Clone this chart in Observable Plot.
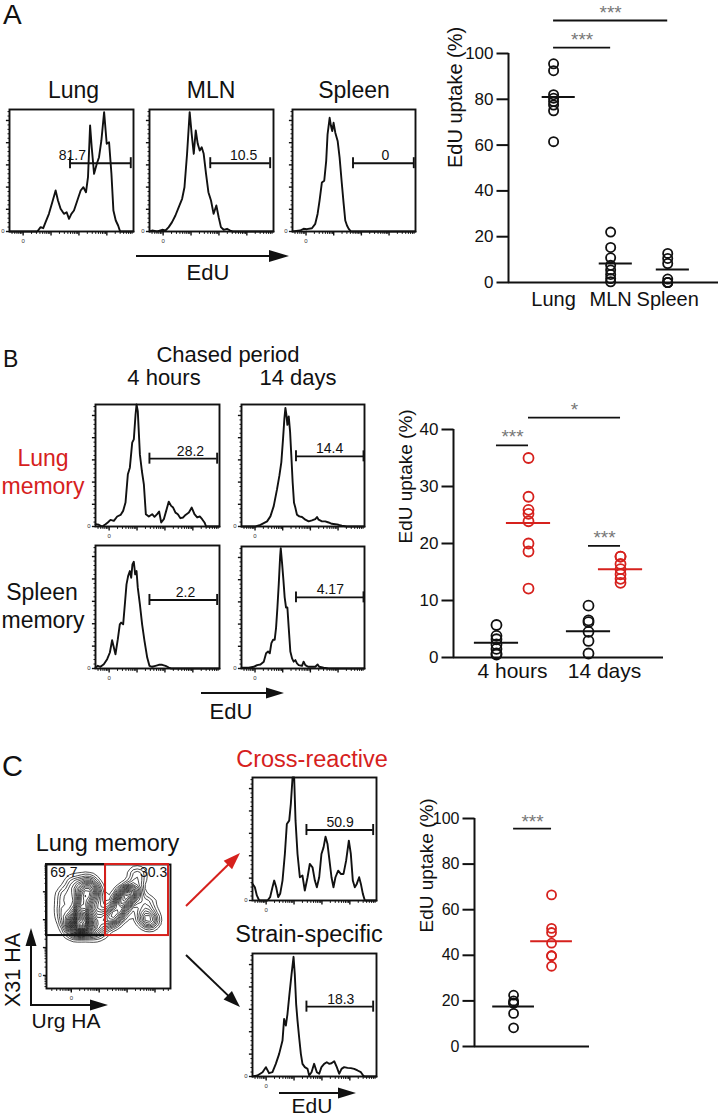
<!DOCTYPE html>
<html><head><meta charset="utf-8">
<script src="https://cdn.jsdelivr.net/npm/d3@7"></script>
<script src="https://cdn.jsdelivr.net/npm/@observablehq/plot@0.6"></script>
<style>
body{margin:0;background:#fff;}
#fig{position:relative;width:718px;height:1119px;overflow:hidden;background:#fff;font-family:"Liberation Sans",Arial,sans-serif;}
#fig > div{position:absolute;line-height:0;}
#fig svg{overflow:visible;}
</style></head><body><div id="fig"></div>
<script>
const FONT = '"Liberation Sans", Arial, sans-serif';
const RED = "#d6211d";
const INK = "#111";

// ---------- Panel A data ----------
const aGroups = ["Lung", "MLN", "Spleen"];
const aLung = [95.5, 92.5, 82, 80.5, 79, 77.5, 75, 61.5];
const aMLN = [22, 15.3, 10.8, 7.5, 5.5, 3.5, 1.7, 0.3];
const aSpleen = [12.7, 10.5, 8.3, 1.5, 0, 0, 0];
const aMeans = [81, 8.3, 5.7];
const aTicks = [0, 20, 40, 60, 80, 100];
const aSig = [{from: 0, to: 1, y: 102.6, label: "***"}, {from: 0, to: 2, y: 114.4, label: "***"}];

// ---------- Panel B data ----------
const bPeriods = ["4 hours", "14 days"];
const bSpleen4h = [5.7, 3.8, 3.2, 2.3, 1.5, 0.7, 0.5];
const bLung4h = [35, 28.2, 25.9, 25.2, 23.9, 20, 18.6, 12.1];
const bSpleen14d = [9.1, 6.5, 6.2, 4.5, 2.9, 0.7];
const bLung14d = [17.7, 17.7, 16.4, 15.5, 14.6, 13.8, 13.1];
const bMeansSpleen = [2.6, 4.6];
const bMeansLung = [23.6, 15.5];
const bTicks = [0, 10, 20, 30, 40];
const bSig = [
  {p1: 0, t1: "Spleen", p2: 0, t2: "Lung", y: 37.2, label: "***"},
  {p1: 1, t1: "Spleen", p2: 1, t2: "Lung", y: 19.6, label: "***"},
  {p1: 0, t1: "Lung", p2: 1, t2: "Lung", y: 42.1, label: "*"}
];

// ---------- Panel C data ----------
const cGroups = ["Strain-specific", "Cross-reactive"];
const cStrain = [22.5, 20, 19, 19, 14.5, 8.2];
const cCross = [66.5, 51.8, 50, 45.3, 39.8, 39.8, 35.2];
const cMeans = [17.5, 46.2];
const cTicks = [0, 20, 40, 60, 80, 100];
const cSig = [{from: 0, to: 1, y: 95.6, label: "***"}];

// ---------- Histograms (EdU, % of axis) ----------
const histALung = [[0,0],[22.4,0],[25.1,3.6],[27.2,2.7],[29.1,7.7],[31.8,14.5],[34.5,24],[37.2,33.6],[39.1,25.4],[41.2,18.6],[43.9,14.5],[46.1,15.8],[48,10.4],[49.9,14.5],[52,17.2],[54.7,25.4],[57.4,33.6],[59.6,36.3],[61.7,32.2],[63.3,44.5],[65,86.9],[66.3,69.1],[68.2,47.3],[70.4,55.5],[72.2,60.9],[74.1,74.6],[76.3,97.8],[78.4,71.9],[80.3,73.2],[82.2,47.3],[83.8,17.2],[85.7,9],[87.6,4.9],[89.2,0],[100,0]];
const histAMLN = [[0,0],[2.1,0.8],[6.2,0],[10.2,1.4],[12.9,0.8],[15.5,3.6],[18.2,7.7],[20.9,13.1],[23.6,19.9],[26.3,26.8],[28.2,36.3],[30.3,63.7],[32.4,97.8],[34,80],[35.7,63.7],[37.3,82.8],[38.9,71.9],[40.5,66.4],[42.1,69.1],[43.7,63.7],[45.6,47.3],[47.5,32.2],[49.6,25.4],[51.7,14.5],[53.9,21.3],[55.8,11.7],[57.6,3.6],[59.8,1.4],[62.5,2.2],[65.1,0.8],[67,0],[100,0]];
const histASpleen = [[0,0],[6.3,0.8],[9,2.2],[11.7,1.9],[15.8,2.7],[18.5,6.3],[20.4,14.4],[22,25.3],[23.9,40.2],[25.8,41.6],[27.4,57.9],[28.5,79.6],[30.2,93.2],[31.3,86.4],[32.3,82.3],[33.4,89.1],[34.8,81],[36.7,74.2],[38.3,60.6],[39.9,41.6],[41.6,22.6],[42.9,9],[44.3,4.9],[45.7,2.2],[47.6,0],[100,0]];
const histBLung4h = [[0,1.9],[2.7,1.4],[5.4,0],[8.1,1.9],[9.9,3.3],[12.1,5.4],[14.8,4.6],[17.5,8.2],[20.2,9.5],[22.3,12.8],[24.2,19.6],[26.1,42.8],[27.7,48.2],[29.6,68.7],[30.9,71.4],[32.3,91.8],[33.1,100],[34.1,94.6],[35.8,59.1],[37.4,45.5],[39,34.6],[40.6,10.1],[43,8.2],[45.7,10.1],[47.6,7.9],[49.7,10.1],[51.3,12.3],[53,3.3],[55.1,6],[57,12.8],[59.1,20.4],[61,16.9],[62.6,15.5],[64.5,11.4],[66.4,10.1],[68.5,6.8],[70.7,7.4],[72.6,9.5],[75.3,11.4],[77.6,15.5],[79.8,10.1],[82,7.4],[84.1,8.2],[86,6],[87.9,3.3],[89.2,0],[100,0]];
const histBLung14d = [[0,0],[11.4,0],[15.4,1.4],[18.1,2.8],[20.8,4.2],[23.5,8.3],[26.2,16.7],[28.9,30.6],[30.8,41.7],[32.4,52.8],[33.8,72.2],[34.9,88.9],[35.7,97.2],[36.5,91.7],[37.3,83.3],[38.4,90.3],[39.5,77.8],[40.5,58.3],[41.6,36.1],[42.7,19.4],[43.8,15.3],[45.1,9.7],[47,8.3],[49.2,7.8],[51.9,5.6],[54.6,4.2],[57.3,5],[60,6.1],[61.4,7.8],[62.7,5.6],[65.4,4.2],[68.1,4.2],[70.8,3.3],[73.5,2.2],[76.2,1.9],[78.9,1.4],[81.6,0.6],[85.7,0],[100,0]];
const histBSpleen4h = [[0,0.8],[1.9,2.2],[4,1.4],[6.7,3.5],[9.4,7.6],[11.6,13],[13.4,23],[14.8,17],[16.1,11.6],[18,23.8],[19.6,35.9],[20.7,37.3],[22.3,35.9],[23.9,54.9],[25,68.4],[26.3,75.1],[27.7,79.2],[28.8,73.8],[29.8,84.6],[30.9,86.8],[32,76.5],[33.1,79.2],[34.1,65.7],[35.8,52.2],[37.6,35.9],[39.5,22.4],[41.7,8.9],[43.5,2.2],[45.7,1.4],[48.4,2.2],[51.1,3],[53.8,3],[56.5,2.2],[59.1,0.8],[61,0],[100,0]];
const histBSpleen14d = [[0,0.6],[5.9,0.6],[10,1.4],[12.7,2.8],[15.4,3.3],[18.1,5.6],[20,12.5],[21.6,13.9],[23,12.5],[24.3,20.8],[25.7,23.6],[27,23.6],[28.1,33.3],[29.2,50],[30.3,69.4],[31.4,91.7],[31.9,98.6],[33,86.1],[34.1,72.2],[35.1,58.3],[36.2,50],[37.3,50],[38.4,33.3],[39.7,13.9],[41.1,8.3],[42.4,5.6],[43.8,6.9],[45.1,4.2],[46.5,2.8],[49.2,2.2],[50.5,5.6],[51.9,2.8],[54.1,1.4],[57.3,1.4],[60,1.4],[61.9,3.3],[63.2,1.4],[66.8,0.6],[70.8,0],[100,0]];
const histCCross = [[0,13.5],[1.9,10.8],[3.5,4.1],[5.4,0],[12.1,0],[14.2,2.7],[16.1,10.8],[17.5,16.2],[19.1,10.8],[20.7,2.7],[22.3,5.4],[24.2,16.2],[26.1,37.8],[27.7,62.2],[29.6,64.9],[30.9,78.4],[32.3,100],[33.6,100],[34.7,64.9],[36.3,37.8],[38.2,18.9],[40.3,20.3],[42.2,8.1],[44.4,18.9],[46.2,29.7],[48.4,27],[50.3,16.2],[51.9,10.8],[53.8,18.9],[55.6,37.8],[57.3,43.2],[58.9,51.9],[60.5,45.9],[62.1,32.4],[63.7,18.9],[65.3,10.8],[66.9,18.9],[69.1,24.3],[71.2,21.6],[73.4,21.6],[75.5,32.4],[77.7,48.6],[79.3,37.8],[80.9,16.2],[82.5,10.8],[84.1,13.5],[86,18.9],[87.4,13.5],[89,5.4],[90.6,0],[100,0]];
const histCStrain = [[0,0],[4,0.8],[8.1,3.5],[10.8,7.6],[13.4,2.7],[16.1,3.5],[18.8,10.3],[21.5,18.4],[24.2,29.2],[25.5,46.8],[26.9,41.4],[28.2,50.8],[29.8,67],[31.5,83.2],[33.1,97.3],[34.1,83.2],[35.2,58.9],[36.3,45.4],[37.6,31.9],[39,18.4],[40.3,10.3],[42.2,7.6],[44.4,6.2],[45.7,0.8],[47.6,3.5],[49.7,10.3],[51.9,3.5],[53.8,2.2],[55.6,7.6],[57.8,10.3],[59.9,11.6],[61.8,10.3],[63.7,10.8],[65.9,12.4],[68,7.6],[69.9,2.2],[71.8,6.2],[73.9,7.6],[76.6,7],[79.3,6.8],[82,6.2],[84.7,4.9],[87.4,3.5],[88.7,1.6],[90.1,0],[100,0]];

// gates: x range, y level, label and label position
const gateALung = {x1: 48.8, x2: 97.8, y: 56, label: "81.7", lx: 50.7};
const gateAMLN = {x1: 49, x2: 97.3, y: 56, label: "10.5", lx: 75.9};
const gateASpleen = {x1: 49.2, x2: 98.6, y: 56, label: "0", lx: 75.5};
const gateBLung4h = {x1: 43.5, x2: 98.1, y: 55.6, label: "28.2", lx: 76.6};
const gateBLung14d = {x1: 44.3, x2: 99.2, y: 57.5, label: "14.4", lx: 71.6};
const gateBSpleen4h = {x1: 43.5, x2: 98.1, y: 55.7, label: "2.2", lx: 72.6};
const gateBSpleen14d = {x1: 44.3, x2: 99.2, y: 58.3, label: "4.17", lx: 72.2};
const gateCCross = {x1: 43.5, x2: 97.3, y: 57.3, label: "50.9", lx: 70.7};
const gateCStrain = {x1: 43.5, x2: 97.3, y: 56.8, label: "18.3", lx: 71.2};

// ---------- Contour (Urg HA vs X31 HA) ----------
const contourEvents = [[27.4,78],[28.8,69.9],[27.4,61.8],[26.9,53.8],[28.8,48.4],[31.5,51.1],[32.8,59.1],[31.5,69.9],[22,84.7],[32.8,86],[38.2,79.3],[40.9,69.9],[39.5,59.1],[38.2,51.1],[15.3,75.3],[14,64.5],[16.7,56.5],[19.4,48.4],[22,51.1],[24.7,47],[35.5,47],[42.2,47],[28,56],[29,65],[30,74],[27,60],[28.5,52],[34,82],[36,76],[28,50],[48.9,53.8],[53,57.8],[57,59.1],[55.6,64.5],[59.7,69.9],[63.7,75.3],[67.7,78],[71.8,79.3],[67.7,72.6],[62.4,64.5],[50.3,57.8],[61,72],[65,77],[73.1,91.4],[80.6,68.5],[78,59.1],[82.5,53.8],[83.9,56.5]];
const contourGateNeg = {x1: 0, x2: 47.6, y1: 42.7, y2: 100, label: "69.7"};
const contourGatePos = {x1: 47.6, x2: 98.4, y1: 42.7, y2: 100, label: "30.3"};

// ---------- flow axis ticks ----------
const flowDecade = 22.5;
const histZeroX = 11;
const contourZeroX = 20;
const contourZeroY = 10.5;
const countTicks = [0, 18.2, 36.4, 54.6, 72.8, 91];

function logTicks(zero) {
  const major = [0, 1, 2, 3, 4].map(k => zero + k * flowDecade).filter(v => v <= 100);
  const minor = [];
  [-1, 0, 1, 2, 3].forEach(k => {
    for (let j = 2; j <= 9; j++) {
      const v = zero + k * flowDecade + flowDecade * Math.log10(j);
      if (v > 0.5 && v < 99.5) minor.push(v);
    }
  });
  return {major, minor};
}
const countMinor = d3.range(0, 100, 3.64).filter(v => !countTicks.some(t => Math.abs(t - v) < 0.5));

const fig = document.getElementById("fig");
function place(el, left, top) {
  const d = document.createElement("div");
  d.style.left = left + "px"; d.style.top = top + "px";
  d.appendChild(el); fig.appendChild(d);
}

// tick segments as data rows: {x1, x2, y1, y2}
function xTickRows(vals, len) { return vals.map(v => ({x1: v, x2: v, y1: 0, y2: -len})); }
function yTickRows(vals, len, x0) { return vals.map(v => ({x1: x0, x2: x0 - len, y1: v, y2: v})); }

function flowMarks(xt, yt, zx, zy, ux, uy) {
  return [
    Plot.link(xTickRows(xt.minor, 2.4 * uy), {x1: "x1", x2: "x2", y1: "y1", y2: "y2", stroke: INK, strokeWidth: 1}),
    Plot.link(xTickRows(xt.major, 4 * uy), {x1: "x1", x2: "x2", y1: "y1", y2: "y2", stroke: INK, strokeWidth: 1.4}),
    Plot.link(yTickRows(yt.minor, 2 * ux, 0), {x1: "x1", x2: "x2", y1: "y1", y2: "y2", stroke: INK, strokeWidth: 1}),
    Plot.link(yTickRows(yt.major, 3.6 * ux, 0), {x1: "x1", x2: "x2", y1: "y1", y2: "y2", stroke: INK, strokeWidth: 1.4}),
    Plot.text([zx], {x: d => d, y: () => 0, text: () => "0", lineAnchor: "top", dy: 7, fontSize: 6, fill: "#333"}),
    Plot.text([zy], {x: () => 0, y: d => d, text: () => "0", textAnchor: "end", dx: -5, fontSize: 6, fill: "#333"})
  ];
}

function histogram(data, gate, box) {
  const [L, T, R, B] = box;
  const ml = 12, mt = 3, mr = 3, mb = 16;
  const ux = 100 / (R - L), uy = 100 / (B - T);
  const xt = logTicks(histZeroX);
  const svg = Plot.plot({
    width: R - L + ml + mr, height: B - T + mt + mb,
    marginLeft: ml, marginTop: mt, marginRight: mr, marginBottom: mb,
    x: {domain: [0, 100], axis: null}, y: {domain: [0, 100], axis: null},
    style: {fontFamily: FONT, background: "transparent", color: "black"},
    marks: [
      ...flowMarks(xt, {major: countTicks, minor: countMinor}, histZeroX, 0, ux, uy),
      Plot.line(data, {x: d => d[0], y: d => d[1], stroke: INK, strokeWidth: 1.9}),
      Plot.frame({stroke: INK, strokeWidth: 1.9}),
      Plot.ruleY([gate], {y: "y", x1: "x1", x2: "x2", stroke: INK, strokeWidth: 1.9}),
      Plot.ruleX([gate], {x: "x1", y1: d => d.y - 4.5, y2: d => d.y + 4.5, stroke: INK, strokeWidth: 1.9}),
      Plot.ruleX([gate], {x: "x2", y1: d => d.y - 4.5, y2: d => d.y + 4.5, stroke: INK, strokeWidth: 1.9}),
      Plot.text([gate], {x: "lx", y: "y", text: "label", lineAnchor: "bottom", dy: -3, fontSize: 14, fill: INK})
    ]
  });
  place(svg, L - ml, T - mt);
}

// ---- Panel A histograms
histogram(histALung, gateALung, [9, 109, 133, 231]);
histogram(histAMLN, gateAMLN, [149, 109, 273, 231]);
histogram(histASpleen, gateASpleen, [292, 109, 415, 231]);
// ---- Panel B histograms
histogram(histBLung4h, gateBLung4h, [95, 404, 219, 526]);
histogram(histBLung14d, gateBLung14d, [241, 404, 364, 526]);
histogram(histBSpleen4h, gateBSpleen4h, [95, 545, 219, 668]);
histogram(histBSpleen14d, gateBSpleen14d, [241, 546, 364, 668]);
// ---- Panel C histograms
histogram(histCCross, gateCCross, [252, 777, 376, 900]);
histogram(histCStrain, gateCStrain, [252, 953, 376, 1076]);

// ---- Contour plot
(function () {
  const [L, T, R, B] = [46, 864, 170, 988];
  const ml = 12, mt = 3, mr = 3, mb = 16;
  const ux = 100 / (R - L), uy = 100 / (B - T);
  const xt = logTicks(contourZeroX), yt = logTicks(contourZeroY);
  const svg = Plot.plot({
    width: R - L + ml + mr, height: B - T + mt + mb,
    marginLeft: ml, marginTop: mt, marginRight: mr, marginBottom: mb,
    x: {domain: [0, 100], axis: null}, y: {domain: [0, 100], axis: null},
    style: {fontFamily: FONT, background: "transparent", color: "black"},
    marks: [
      ...flowMarks(xt, yt, contourZeroX, contourZeroY, ux, uy),
      Plot.density(contourEvents, {x: d => d[0], y: d => d[1], bandwidth: 4.2, thresholds: 26, stroke: "#000", strokeWidth: 0.7}),
      Plot.frame({stroke: INK, strokeWidth: 1.9}),
      Plot.rect([contourGateNeg], {x1: "x1", x2: "x2", y1: "y1", y2: "y2", fill: "none", stroke: INK, strokeWidth: 2}),
      Plot.rect([contourGatePos], {x1: "x1", x2: "x2", y1: "y1", y2: "y2", fill: "none", stroke: RED, strokeWidth: 2}),
      Plot.text([contourGateNeg], {x: d => d.x1 + 3, y: "y2", text: "label", textAnchor: "start", lineAnchor: "top", dy: 3, fontSize: 14, fill: INK}),
      Plot.text([contourGatePos], {x: d => d.x2 - 1, y: "y2", text: "label", textAnchor: "end", lineAnchor: "top", dy: 3, fontSize: 14, fill: INK})
    ]
  });
  place(svg, L - ml, T - mt);
})();

// scatter y axis: line, ticks (as links) and labels
function scatterAxisY(ticks, xd, W, ml, mr, fontSize) {
  const ux = (xd[1] - xd[0]) / (W - ml - mr);
  return [
    Plot.link(yTickRows(ticks, 12 * ux, xd[0]), {x1: "x1", x2: "x2", y1: "y1", y2: "y2", stroke: INK, strokeWidth: 2}),
    Plot.text(ticks, {x: () => xd[0], y: d => d, text: d => String(d), textAnchor: "end", dx: -15, fontSize, fill: INK}),
    Plot.ruleX([xd[0]], {stroke: INK, strokeWidth: 2}),
    Plot.ruleY([0], {stroke: INK, strokeWidth: 2})
  ];
}

// ---- Scatter A
(function () {
  const vals = [aLung, aMLN, aSpleen];
  const rows = aGroups.flatMap((g, i) => vals[i].map(v => ({i, v})));
  const means = aMeans.map((m, i) => ({i, m}));
  const xd = [-0.79, 2.89];
  const W = 318, ml = 108, mr = 0;
  const svg = Plot.plot({
    width: W, height: 320, marginLeft: ml, marginRight: mr, marginTop: 53, marginBottom: 38,
    x: {domain: xd, axis: null}, y: {domain: [0, 100], axis: null},
    style: {fontFamily: FONT, background: "transparent", color: "black"},
    marks: [
      ...scatterAxisY(aTicks, xd, W, ml, mr, 17),
      Plot.text(aGroups, {x: (d, i) => i, y: () => 0, text: d => d, lineAnchor: "top", dy: 9, fontSize: 20, fill: INK}),
      Plot.dot(rows, {x: "i", y: "v", r: 4.6, stroke: INK, strokeWidth: 1.8}),
      Plot.ruleY(means, {y: "m", x1: d => d.i - 0.2, x2: d => d.i + 0.38, stroke: INK, strokeWidth: 2}),
      Plot.ruleY(aSig, {y: "y", x1: "from", x2: "to", stroke: INK, strokeWidth: 1.8}),
      Plot.text(aSig, {x: d => (d.from + d.to) / 2, y: "y", text: "label", lineAnchor: "bottom", dy: -2, fontSize: 19, fill: "#777"}),
      Plot.text(["EdU uptake (%)"], {text: d => d, frameAnchor: "left", rotate: -90, dx: -53, fontSize: 20, fill: INK})
    ]
  });
  place(svg, 400, 0);
})();

// ---- Scatter B
(function () {
  const dodge = 0.174;
  const pos = (p, t) => p + (t === "Lung" ? dodge : -dodge);
  const rows = [
    ...bSpleen4h.map(v => ({p: 0, t: "Spleen", v})),
    ...bLung4h.map(v => ({p: 0, t: "Lung", v})),
    ...bSpleen14d.map(v => ({p: 1, t: "Spleen", v})),
    ...bLung14d.map(v => ({p: 1, t: "Lung", v}))
  ];
  const means = [
    ...bMeansSpleen.map((m, p) => ({p, t: "Spleen", m})),
    ...bMeansLung.map((m, p) => ({p, t: "Lung", m}))
  ];
  const xd = [-0.641, 1.641];
  const W = 300, ml = 73, mr = 17;
  const svg = Plot.plot({
    width: W, height: 300, marginLeft: ml, marginRight: mr, marginTop: 39, marginBottom: 33,
    x: {domain: xd, axis: null}, y: {domain: [0, 40], axis: null},
    style: {fontFamily: FONT, background: "transparent", color: "black"},
    marks: [
      ...scatterAxisY(bTicks, xd, W, ml, mr, 17),
      Plot.text(bPeriods, {x: (d, i) => i, y: () => 0, text: d => d, lineAnchor: "top", dy: 6, fontSize: 21, fill: INK}),
      Plot.dot(rows.filter(d => d.t === "Spleen"), {x: d => pos(d.p, d.t), y: "v", r: 5, stroke: INK, strokeWidth: 1.8}),
      Plot.dot(rows.filter(d => d.t === "Lung"), {x: d => pos(d.p, d.t), y: "v", r: 5, stroke: RED, strokeWidth: 1.8}),
      Plot.ruleY(means.filter(d => d.t === "Spleen"), {y: "m", x1: d => pos(d.p, d.t) - 0.24, x2: d => pos(d.p, d.t) + 0.24, stroke: INK, strokeWidth: 2}),
      Plot.ruleY(means.filter(d => d.t === "Lung"), {y: "m", x1: d => pos(d.p, d.t) - 0.24, x2: d => pos(d.p, d.t) + 0.24, stroke: RED, strokeWidth: 2}),
      Plot.ruleY(bSig, {y: "y", x1: d => pos(d.p1, d.t1), x2: d => pos(d.p2, d.t2), stroke: INK, strokeWidth: 1.8}),
      Plot.text(bSig, {x: d => (pos(d.p1, d.t1) + pos(d.p2, d.t2)) / 2, y: "y", text: "label", lineAnchor: "bottom", dy: -2, fontSize: 19, fill: "#777"}),
      Plot.text(["EdU uptake (%)"], {text: d => d, frameAnchor: "left", rotate: -90, dx: -48, fontSize: 19, fill: INK})
    ]
  });
  place(svg, 380, 390);
})();

// ---- Scatter C
(function () {
  const rows = [...cStrain.map(v => ({i: 0, v})), ...cCross.map(v => ({i: 1, v}))];
  const means = cMeans.map((m, i) => ({i, m}));
  const xd = [-1.03, 2.0];
  const W = 200, ml = 74, mr = 11;
  const svg = Plot.plot({
    width: W, height: 270, marginLeft: ml, marginRight: mr, marginTop: 18, marginBottom: 24,
    x: {domain: xd, axis: null}, y: {domain: [0, 100], axis: null},
    style: {fontFamily: FONT, background: "transparent", color: "black"},
    marks: [
      ...scatterAxisY(cTicks, xd, W, ml, mr, 16),
      Plot.dot(rows.filter(d => d.i === 0), {x: "i", y: "v", r: 4.5, stroke: INK, strokeWidth: 1.8}),
      Plot.dot(rows.filter(d => d.i === 1), {x: "i", y: "v", r: 4.5, stroke: RED, strokeWidth: 1.8}),
      Plot.ruleY(means.filter(d => d.i === 0), {y: "m", x1: d => d.i - 0.55, x2: d => d.i + 0.55, stroke: INK, strokeWidth: 2}),
      Plot.ruleY(means.filter(d => d.i === 1), {y: "m", x1: d => d.i - 0.55, x2: d => d.i + 0.55, stroke: RED, strokeWidth: 2}),
      Plot.ruleY(cSig, {y: "y", x1: "from", x2: "to", stroke: INK, strokeWidth: 1.8}),
      Plot.text(cSig, {x: d => (d.from + d.to) / 2, y: "y", text: "label", lineAnchor: "bottom", dy: -1, fontSize: 19, fill: "#777"}),
      Plot.text(["EdU uptake (%)"], {text: d => d, frameAnchor: "left", rotate: -90, dx: -48, fontSize: 19, fill: INK})
    ]
  });
  place(svg, 400, 800);
})();

// ---- Annotation overlay (titles, labels, arrows)
(function () {
  const ns = "http://www.w3.org/2000/svg";
  const svg = document.createElementNS(ns, "svg");
  svg.setAttribute("width", 718); svg.setAttribute("height", 1119);
  svg.style.fontFamily = FONT;
  const texts = [
    ["A", 3, 24, 28, "start", INK],
    ["Lung", 73.5, 98, 23, "middle", INK],
    ["MLN", 211, 98, 23, "middle", INK],
    ["Spleen", 354, 98, 23, "middle", INK],
    ["EdU", 208, 280, 22, "middle", INK],
    ["B", 3, 367, 23, "start", INK],
    ["Chased period", 228, 362, 22, "middle", INK],
    ["4 hours", 164, 385, 22, "middle", INK],
    ["14 days", 298, 385, 22, "middle", INK],
    ["Lung", 43, 466, 23, "middle", RED],
    ["memory", 43, 494, 23, "middle", RED],
    ["Spleen", 42, 600, 23, "middle", INK],
    ["memory", 43, 628, 23, "middle", INK],
    ["EdU", 231, 719, 22, "middle", INK],
    ["C", 2, 776, 29, "start", INK],
    ["Lung memory", 107.5, 851, 23.5, "middle", INK],
    ["Urg HA", 66, 1028, 21, "middle", INK],
    ["Cross-reactive", 312, 767, 23.5, "middle", RED],
    ["Strain-specific", 309, 942, 23.5, "middle", INK],
    ["EdU", 312, 1113, 21, "middle", INK]
  ];
  let html = "";
  texts.forEach(([t, x, y, s, a, c]) => {
    html += `<text x="${x}" y="${y}" font-size="${s}" text-anchor="${a}" fill="${c}">${t}</text>`;
  });
  html += `<text transform="translate(20,970) rotate(-90)" font-size="21.5" text-anchor="middle" fill="${INK}">X31 HA</text>`;
  const arrow = (x1, y1, x2, y2, len, hw, color) => {
    const dx = x2 - x1, dy = y2 - y1, L = Math.hypot(dx, dy);
    const ux = dx / L, uy = dy / L, px = -uy, py = ux;
    const bx = x2 - ux * len, by = y2 - uy * len;
    return `<line x1="${x1}" y1="${y1}" x2="${bx + ux}" y2="${by + uy}" stroke="${color}" stroke-width="2"/>` +
      `<polygon points="${x2},${y2} ${bx + px * hw},${by + py * hw} ${bx - px * hw},${by - py * hw}" fill="${color}"/>`;
  };
  html += arrow(136, 256, 289, 256, 20, 6, INK);
  html += arrow(201, 693, 284, 693, 18, 5.5, INK);
  html += arrow(279, 1093, 356, 1093, 18, 5.5, INK);
  html += arrow(31, 1006, 31, 928, 18, 5.5, INK);
  html += arrow(30, 1005, 108, 1005, 18, 5.5, INK);
  html += arrow(186, 906, 240, 853, 17, 6, RED);
  html += arrow(186, 955, 240, 1007, 17, 6, INK);
  svg.innerHTML = html;
  place(svg, 0, 0);
})();
</script></body></html>
